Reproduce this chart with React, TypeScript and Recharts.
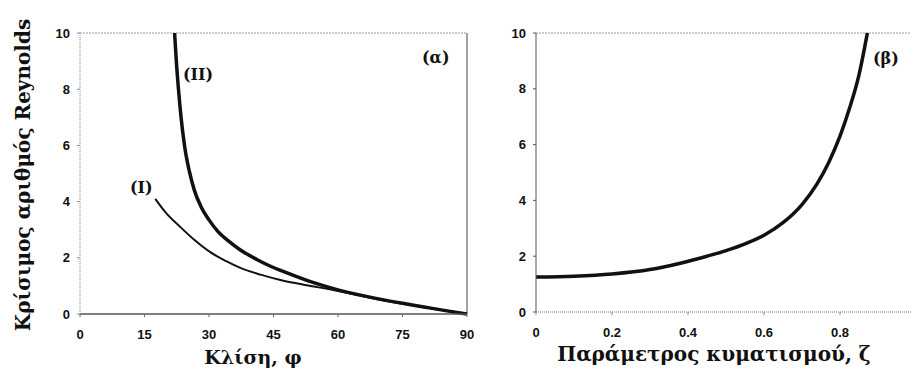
import React from 'react';
import { LineChart, Line, XAxis, YAxis, ReferenceLine } from 'recharts';

// panel (α): inclination angle vs critical Reynolds number
const angleTicks = [0, 15, 30, 45, 60, 75, 90];
const reTicks = [0, 2, 4, 6, 8, 10];

const curveIAngle = [17.5, 20, 23.3, 26.5, 30.3, 34, 37.3, 42, 46.6, 50, 53.6, 60, 65, 70, 75, 80, 85, 90];
const curveIRe = [4.1, 3.6, 3.1, 2.65, 2.2, 1.88, 1.64, 1.4, 1.21, 1.1, 1.0, 0.82, 0.66, 0.5, 0.37, 0.24, 0.12, 0];

const curveIIAngle = [22, 22.4, 22.9, 23.5, 24.3, 25.4, 26.6, 28.2, 30, 32, 34.5, 37.3, 41, 44.3, 48, 53.6, 60, 65, 70, 75, 80, 85, 90];
const curveIIRe = [10, 9, 8, 7, 6, 5.1, 4.4, 3.8, 3.35, 2.95, 2.6, 2.28, 1.95, 1.7, 1.47, 1.15, 0.86, 0.68, 0.52, 0.38, 0.25, 0.12, 0];

// panel (β): waviness parameter vs critical Reynolds number
const waveTicks = [0, 0.2, 0.4, 0.6, 0.8];
const waveZeta = [0, 0.1, 0.2, 0.3, 0.38, 0.45, 0.5, 0.555, 0.6, 0.65, 0.7, 0.74, 0.77, 0.8, 0.825, 0.85, 0.872];
const waveRe = [1.25, 1.28, 1.36, 1.52, 1.75, 2.0, 2.2, 2.47, 2.75, 3.2, 3.85, 4.6, 5.35, 6.3, 7.3, 8.5, 10];

const zip = (xs: number[], ys: number[]) => xs.map((x, i) => ({ x, y: ys[i] }));

const serif = '"DejaVu Serif", "Liberation Serif", serif';

// bold sans tick labels, drawn by hand so the font sticks
const XTick = (props: any) => (
  <text
    x={props.x}
    y={props.y}
    dy="0.71em"
    textAnchor="middle"
    fontFamily='"Liberation Sans", Arial, sans-serif'
    fontWeight="bold"
    fontSize={13}
    fill="#111"
  >
    {props.payload.value}
  </text>
);

const YTick = (props: any) => (
  <text
    x={props.x}
    y={props.y}
    dy="0.355em"
    textAnchor="end"
    fontFamily='"Liberation Sans", Arial, sans-serif'
    fontWeight="bold"
    fontSize={13}
    fill="#111"
  >
    {props.payload.value}
  </text>
);

const tag = (left: number, top: number, size = 16): React.CSSProperties => ({
  position: 'absolute',
  left,
  top,
  fontFamily: serif,
  fontWeight: 700,
  fontSize: size,
  lineHeight: 1,
  color: '#111',
  whiteSpace: 'nowrap',
});

export default function App() {
  const dataI = zip(curveIAngle, curveIRe);
  const dataII = zip(curveIIAngle, curveIIRe);
  const dataWave = zip(waveZeta, waveRe);

  return (
    <div style={{ position: 'absolute', left: 0, top: 0, width: 911, height: 371, overflow: 'hidden', background: '#fff' }}>
      <div style={{ position: 'absolute', left: 0, top: 0 }}>
        <LineChart width={480} height={371} margin={{ top: 33, right: 13, bottom: 27, left: 40 }}>
          <XAxis
            type="number"
            dataKey="x"
            domain={[0, 90]}
            ticks={angleTicks}
            tick={<XTick />}
            tickSize={3}
            tickMargin={13}
            height={30}
            stroke="#666"
            axisLine={{ stroke: '#555', strokeWidth: 1.3 }}
          />
          <YAxis
            type="number"
            domain={[0, 10]}
            ticks={reTicks}
            tick={<YTick />}
            tickSize={3}
            tickMargin={7}
            width={40}
            stroke="#888"
            axisLine={{ stroke: '#888', strokeDasharray: '1 1' }}
          />
          <ReferenceLine y={10} stroke="#999" strokeDasharray="2 1" />
          <ReferenceLine x={90} stroke="#444" />
          <Line data={dataI} dataKey="y" type="monotone" stroke="#111" strokeWidth={2} dot={false} isAnimationActive={false} />
          <Line data={dataII} dataKey="y" type="monotone" stroke="#111" strokeWidth={3.5} dot={false} isAnimationActive={false} />
        </LineChart>
      </div>

      <div style={{ position: 'absolute', left: 460, top: 0 }}>
        <LineChart width={460} height={371} margin={{ top: 33, right: 4, bottom: 29, left: 36 }}>
          <XAxis
            type="number"
            dataKey="x"
            domain={[0, 1]}
            ticks={waveTicks}
            tick={<XTick />}
            tickSize={3}
            tickMargin={13}
            height={30}
            stroke="#888"
            axisLine={{ stroke: '#777', strokeDasharray: '1 1' }}
          />
          <YAxis
            type="number"
            domain={[0, 10]}
            ticks={reTicks}
            tick={<YTick />}
            tickSize={3}
            tickMargin={7}
            width={40}
            stroke="#555"
          />
          <ReferenceLine y={10} stroke="#999" strokeDasharray="2 1" />
          <Line data={dataWave} dataKey="y" type="monotone" stroke="#111" strokeWidth={3.5} dot={false} isAnimationActive={false} />
        </LineChart>
      </div>

      <div style={tag(130, 180)}>(I)</div>
      <div style={tag(183, 67)}>(II)</div>
      <div style={tag(422, 50)}>(α)</div>
      <div style={tag(873, 51)}>(β)</div>

      <div style={{ ...tag(253, 348, 19), transform: 'translateX(-50%)' }}>Κλίση, φ</div>
      <div style={{ ...tag(714, 344, 20), transform: 'translateX(-50%)' }}>Παράμετρος κυματισμού, ζ</div>
      <div style={{ ...tag(23, 175, 20), transform: 'translate(-50%, -50%) rotate(-90deg)' }}>
        Κρίσιμος αριθμός Reynolds
      </div>
    </div>
  );
}
